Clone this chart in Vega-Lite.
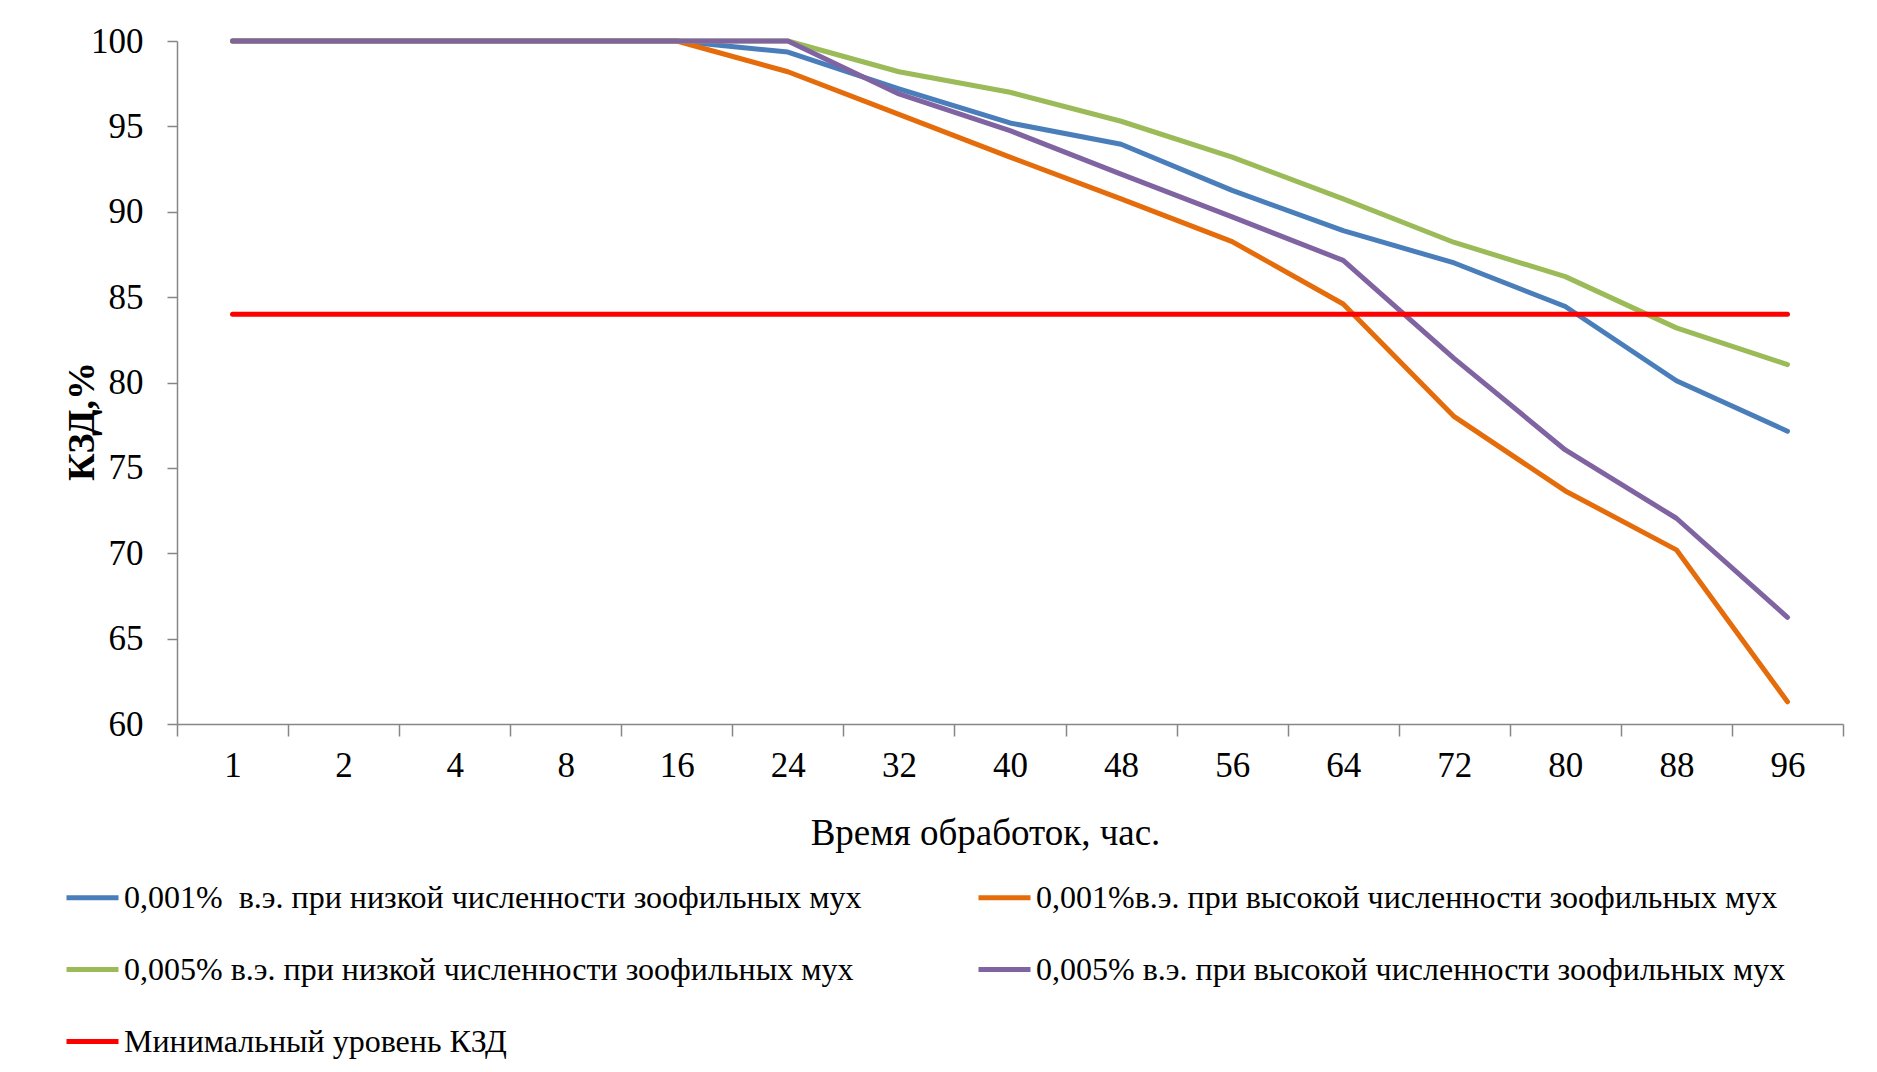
{
  "$schema": "https://vega.github.io/schema/vega-lite/v6.json",
  "autosize": "none",
  "width": 1666,
  "height": 683,
  "padding": {"left": 177, "top": 41, "right": 34, "bottom": 348},
  "background": "white",
  "config": {
    "font": "Liberation Serif",
    "view": {"stroke": null},
    "axis": {"labelFont": "Liberation Serif", "titleFont": "Liberation Serif", "domainColor": "#868686", "tickColor": "#868686", "labelColor": "black", "titleColor": "black", "grid": false, "domainWidth": 1.5, "tickWidth": 1.5},
    "legend": {"labelFont": "Liberation Serif"}
  },
  "data": {
    "values": [
      {"t": "1", "s": "b", "v": 100}, {"t": "2", "s": "b", "v": 100}, {"t": "4", "s": "b", "v": 100}, {"t": "8", "s": "b", "v": 100}, {"t": "16", "s": "b", "v": 100}, {"t": "24", "s": "b", "v": 99.35}, {"t": "32", "s": "b", "v": 97.2}, {"t": "40", "s": "b", "v": 95.2}, {"t": "48", "s": "b", "v": 93.95}, {"t": "56", "s": "b", "v": 91.25}, {"t": "64", "s": "b", "v": 88.9}, {"t": "72", "s": "b", "v": 87.0}, {"t": "80", "s": "b", "v": 84.45}, {"t": "88", "s": "b", "v": 80.1}, {"t": "96", "s": "b", "v": 77.15},
      {"t": "1", "s": "o", "v": 100}, {"t": "2", "s": "o", "v": 100}, {"t": "4", "s": "o", "v": 100}, {"t": "8", "s": "o", "v": 100}, {"t": "16", "s": "o", "v": 100}, {"t": "24", "s": "o", "v": 98.2}, {"t": "32", "s": "o", "v": 95.7}, {"t": "40", "s": "o", "v": 93.2}, {"t": "48", "s": "o", "v": 90.75}, {"t": "56", "s": "o", "v": 88.25}, {"t": "64", "s": "o", "v": 84.6}, {"t": "72", "s": "o", "v": 78.0}, {"t": "80", "s": "o", "v": 73.65}, {"t": "88", "s": "o", "v": 70.2}, {"t": "96", "s": "o", "v": 61.3},
      {"t": "1", "s": "g", "v": 100}, {"t": "2", "s": "g", "v": 100}, {"t": "4", "s": "g", "v": 100}, {"t": "8", "s": "g", "v": 100}, {"t": "16", "s": "g", "v": 100}, {"t": "24", "s": "g", "v": 100}, {"t": "32", "s": "g", "v": 98.2}, {"t": "40", "s": "g", "v": 97.0}, {"t": "48", "s": "g", "v": 95.3}, {"t": "56", "s": "g", "v": 93.2}, {"t": "64", "s": "g", "v": 90.75}, {"t": "72", "s": "g", "v": 88.2}, {"t": "80", "s": "g", "v": 86.2}, {"t": "88", "s": "g", "v": 83.2}, {"t": "96", "s": "g", "v": 81.05},
      {"t": "1", "s": "p", "v": 100}, {"t": "2", "s": "p", "v": 100}, {"t": "4", "s": "p", "v": 100}, {"t": "8", "s": "p", "v": 100}, {"t": "16", "s": "p", "v": 100}, {"t": "24", "s": "p", "v": 100}, {"t": "32", "s": "p", "v": 96.9}, {"t": "40", "s": "p", "v": 94.75}, {"t": "48", "s": "p", "v": 92.2}, {"t": "56", "s": "p", "v": 89.7}, {"t": "64", "s": "p", "v": 87.15}, {"t": "72", "s": "p", "v": 81.4}, {"t": "80", "s": "p", "v": 76.05}, {"t": "88", "s": "p", "v": 72.05}, {"t": "96", "s": "p", "v": 66.25},
      {"t": "1", "s": "r", "v": 84}, {"t": "2", "s": "r", "v": 84}, {"t": "4", "s": "r", "v": 84}, {"t": "8", "s": "r", "v": 84}, {"t": "16", "s": "r", "v": 84}, {"t": "24", "s": "r", "v": 84}, {"t": "32", "s": "r", "v": 84}, {"t": "40", "s": "r", "v": 84}, {"t": "48", "s": "r", "v": 84}, {"t": "56", "s": "r", "v": 84}, {"t": "64", "s": "r", "v": 84}, {"t": "72", "s": "r", "v": 84}, {"t": "80", "s": "r", "v": 84}, {"t": "88", "s": "r", "v": 84}, {"t": "96", "s": "r", "v": 84}
    ]
  },
  "mark": {"type": "line", "strokeWidth": 5, "strokeCap": "round", "strokeJoin": "round"},
  "encoding": {
    "x": {
      "field": "t", "type": "ordinal",
      "sort": ["1", "2", "4", "8", "16", "24", "32", "40", "48", "56", "64", "72", "80", "88", "96"],
      "scale": {"paddingInner": 0, "paddingOuter": 0},
      "axis": {"title": "Время обработок, час.", "titleFontSize": 37, "titleFontWeight": "normal", "titleX": 808, "titleY": 120, "titleBaseline": "alphabetic", "titleAlign": "center", "labelFontSize": 35, "labelAngle": 0, "labelPadding": 12, "tickBand": "extent", "tickSize": 12}
    },
    "y": {
      "field": "v", "type": "quantitative",
      "scale": {"domain": [60, 100], "nice": false, "zero": false},
      "axis": {"title": "КЗД,%", "titleFontSize": 38, "titleFontWeight": "bold", "titleX": -84, "titleY": 380, "titleBaseline": "alphabetic", "titleAlign": "center", "titleAngle": -90, "labelFontSize": 35, "values": [60, 65, 70, 75, 80, 85, 90, 95, 100], "tickSize": 10, "labelPadding": 24}
    },
    "color": {
      "field": "s", "type": "nominal",
      "scale": {"domain": ["b", "o", "g", "p", "r"], "range": ["#4A7EBB", "#E46C0A", "#9BBB59", "#8064A2", "#FF0000"]},
      "legend": {
        "orient": "none", "legendX": -113, "legendY": 828, "direction": "horizontal", "columns": 2,
        "title": null, "symbolType": "stroke", "symbolStrokeWidth": 5, "symbolSize": 2704,
        "labelFontSize": 32, "labelLimit": 1200, "labelOffset": 3, "columnPadding": 106, "rowPadding": 27,
        "labelExpr": "datum.value == 'b' ? '0,001%\u00a0 в.э. при низкой численности зоофильных мух' : datum.value == 'o' ? '0,001%в.э. при высокой численности зоофильных мух' : datum.value == 'g' ? '0,005% в.э. при низкой численности зоофильных мух' : datum.value == 'p' ? '0,005% в.э. при высокой численности зоофильных мух' : 'Минимальный уровень КЗД'"
      }
    }
  }
}
